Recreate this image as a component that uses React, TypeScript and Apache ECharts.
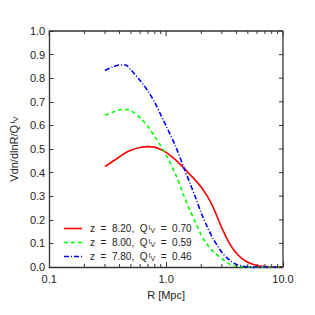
import React, { useEffect, useRef } from "react";
import * as echarts from "echarts";

const radii = [0.3, 0.35, 0.4, 0.45, 0.5, 0.6, 0.7, 0.8, 0.9, 1.0, 1.2, 1.4, 1.6, 1.8, 2.0, 2.25, 2.5, 2.75, 3.0, 3.5, 4.0, 4.5, 5.0, 6.0, 7.0, 8.0, 9.0, 10.0];
const redValues = [0.425, 0.448, 0.467, 0.484, 0.495, 0.506, 0.51, 0.508, 0.498, 0.486, 0.455, 0.422, 0.392, 0.365, 0.338, 0.3, 0.258, 0.21, 0.165, 0.098, 0.058, 0.034, 0.02, 0.006, 0.002, 0.0, 0.0, 0.0];
const greenValues = [0.643, 0.656, 0.666, 0.668, 0.662, 0.633, 0.595, 0.553, 0.513, 0.475, 0.395, 0.31, 0.24, 0.185, 0.135, 0.095, 0.068, 0.05, 0.035, 0.012, 0.004, 0.001, 0.0, 0.0, 0.0, 0.0, 0.0, 0.0];
const blueValues = [0.833, 0.848, 0.856, 0.856, 0.835, 0.79, 0.745, 0.697, 0.645, 0.598, 0.514, 0.428, 0.355, 0.29, 0.228, 0.17, 0.123, 0.09, 0.062, 0.028, 0.011, 0.004, 0.001, 0.0, 0.0, 0.0, 0.0, 0.0];

const zLabels = ["8.20", "8.00", "7.80"];
const qLabels = ["0.70", "0.59", "0.46"];
const majorXTicks = [0.1, 1, 10];
const minorXTicks = [0.2, 0.3, 0.4, 0.5, 0.6, 0.7, 0.8, 0.9, 2, 3, 4, 5, 6, 7, 8, 9];
const yTicks = [0, 0.1, 0.2, 0.3, 0.4, 0.5, 0.6, 0.7, 0.8, 0.9, 1.0];

const FONT = "Liberation Sans";
const AXIS_COLOR = "#333";
const TEXT_COLOR = "#222";

const seriesStyles = [
  { color: "#ff0000", dash: "solid" as any },
  { color: "#00ff00", dash: [4, 3] },
  { color: "#0000ff", dash: [5, 2, 1, 2] },
];

export default function App() {
  const ref = useRef<HTMLDivElement>(null);
  useEffect(() => {
    if (!ref.current) return;
    const chart = echarts.init(ref.current, null, { renderer: "svg" });
    const names = zLabels.map((z) => `z = ${z}`);
    const mk = (vals: number[]) => radii.map((r, i) => [r, vals[i]]);
    const axisLine = () => ({ show: true, onZero: false, lineStyle: { color: AXIS_COLOR, width: 1.3 } });
    const tick = (len: number) => ({ show: true, inside: true, length: len, lineStyle: { color: AXIS_COLOR, width: 1 } });
    const subRich = (size: number) => ({
      sup: { fontSize: size - 3, lineHeight: size - 3, verticalAlign: "top", fontFamily: FONT, color: TEXT_COLOR, padding: [0, 0, 0, 1] },
      sub: { fontSize: size - 3, lineHeight: size - 3, verticalAlign: "bottom", fontFamily: FONT, color: TEXT_COLOR },
    });
    const allVals = [redValues, greenValues, blueValues];
    const legendRowY = [228.5, 242.5, 256.5];
    const legendGraphics: any[] = [];
    zLabels.forEach((z, i) => {
      const st = seriesStyles[i];
      const lineStyle: any = { stroke: st.color, lineWidth: 1.6 };
      if (Array.isArray(st.dash)) lineStyle.lineDash = st.dash;
      legendGraphics.push({
        type: "line",
        silent: true,
        shape: { x1: 64, y1: legendRowY[i], x2: 82, y2: legendRowY[i] },
        style: lineStyle,
      });
      legendGraphics.push({
        type: "text",
        silent: true,
        x: 90,
        y: legendRowY[i],
        style: {
          text: `z  =  ${z},  Q{sup|I}{sub|V}  =  ${qLabels[i]}`,
          fontFamily: FONT,
          fontSize: 10,
          fill: TEXT_COLOR,
          verticalAlign: "middle",
          align: "left",
          rich: subRich(10),
        },
      });
    });
    chart.setOption({
      animation: false,
      backgroundColor: "#fff",
      grid: { left: 48, right: 32, top: 31, bottom: 48 },
      xAxis: {
        type: "log",
        min: 0.1,
        max: 10,
        name: "R [Mpc]",
        nameLocation: "middle",
        nameGap: 22,
        nameTextStyle: { fontFamily: FONT, fontSize: 11, color: TEXT_COLOR },
        axisLine: axisLine(),
        axisTick: tick(5),
        axisLabel: {
          fontFamily: FONT,
          fontSize: 11,
          color: TEXT_COLOR,
          margin: 6,
          formatter: (v: number) => v.toFixed(1),
        },
        splitLine: { show: false },
      },
      yAxis: {
        type: "value",
        min: 0,
        max: 1,
        interval: 0.1,
        name: "Vdn/dlnR/Q{sup|I}{sub|V}",
        nameLocation: "middle",
        nameRotate: 90,
        nameGap: 30,
        nameTextStyle: { fontFamily: FONT, fontSize: 11, color: TEXT_COLOR, rich: subRich(11) },
        axisLine: axisLine(),
        axisTick: tick(4),
        axisLabel: {
          fontFamily: FONT,
          fontSize: 11,
          color: TEXT_COLOR,
          margin: 4,
          formatter: (v: number) => v.toFixed(1),
        },
        splitLine: { show: false },
      },
      series: names.map((name, i) => ({
        name,
        type: "line",
        data: mk(allVals[i]),
        smooth: 0.3,
        showSymbol: false,
        symbol: "none",
        lineStyle: { color: seriesStyles[i].color, width: 1.6, type: seriesStyles[i].dash },
        itemStyle: { color: seriesStyles[i].color },
      })),
    });

    // Frame (top and right edges) and ticks, positioned through the chart's own scales.
    const px = (x: number, y: number) =>
      chart.convertToPixel({ xAxisIndex: 0, yAxisIndex: 0 }, [x, y]) as number[];
    const tl = px(0.1, 1);
    const br = px(10, 0);
    const frameStyle = { stroke: AXIS_COLOR, lineWidth: 1.3 };
    const tickStyle = { stroke: AXIS_COLOR, lineWidth: 1 };
    const frameGraphics: any[] = [
      { type: "line", silent: true, z: 50, shape: { x1: tl[0], y1: tl[1], x2: br[0], y2: tl[1] }, style: frameStyle },
      { type: "line", silent: true, z: 50, shape: { x1: br[0], y1: tl[1], x2: br[0], y2: br[1] }, style: frameStyle },
    ];
    majorXTicks.forEach((v) => {
      const p = px(v, 1);
      frameGraphics.push({ type: "line", silent: true, z: 50, shape: { x1: p[0], y1: tl[1], x2: p[0], y2: tl[1] + 5 }, style: tickStyle });
    });
    minorXTicks.forEach((v) => {
      const p = px(v, 0);
      frameGraphics.push({ type: "line", silent: true, z: 50, shape: { x1: p[0], y1: tl[1], x2: p[0], y2: tl[1] + 3 }, style: tickStyle });
      frameGraphics.push({ type: "line", silent: true, z: 50, shape: { x1: p[0], y1: br[1], x2: p[0], y2: br[1] - 3 }, style: tickStyle });
    });
    yTicks.forEach((v) => {
      const p = px(10, v);
      frameGraphics.push({ type: "line", silent: true, z: 50, shape: { x1: br[0], y1: p[1], x2: br[0] - 4, y2: p[1] }, style: tickStyle });
    });
    chart.setOption({ graphic: [...legendGraphics, ...frameGraphics] });

    return () => chart.dispose();
  }, []);
  return (
    <div
      ref={ref}
      style={{ position: "absolute", left: 0, top: 0, width: 315, height: 315 }}
    />
  );
}
